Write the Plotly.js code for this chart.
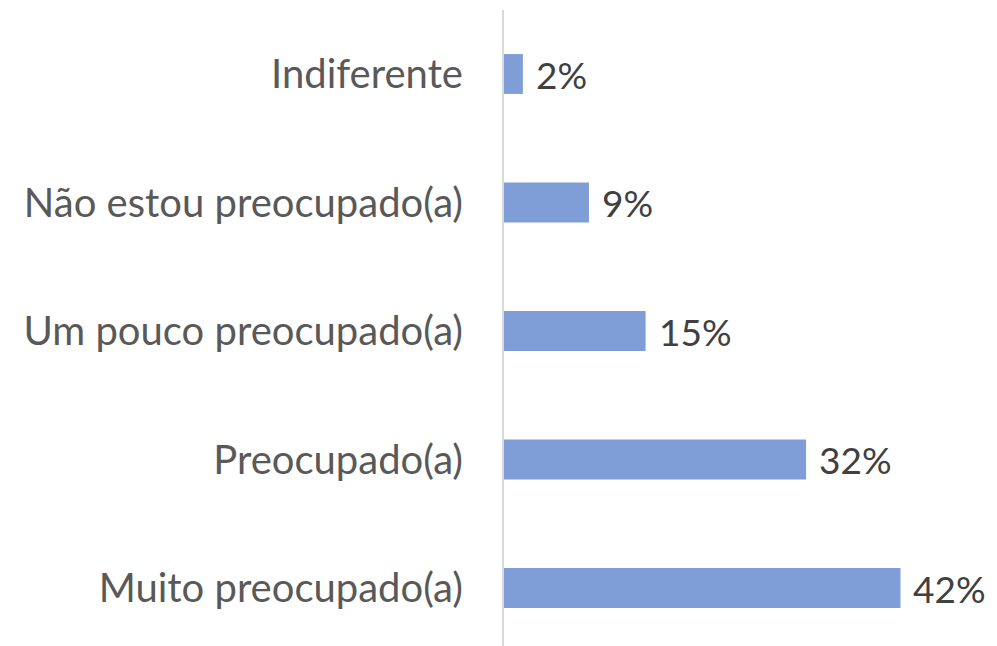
<!DOCTYPE html>
<html>
<head>
<meta charset="utf-8">
<script src="https://cdn.plot.ly/plotly-3.0.1.min.js"></script>
<style>
  html, body { margin: 0; padding: 0; background: #fff; }
  #chart { width: 997px; height: 646px; }
</style>
</head>
<body>
<div id="chart"></div>
<script>
// answers, bottom to top
var categories = ['Muito preocupado(a)', 'Preocupado(a)', 'Um pouco preocupado(a)', 'Não estou preocupado(a)', 'Indiferente'];
var shares = [42, 32, 15, 9, 2];

var barColor = '#7F9ED7';

var data = [{
  type: 'bar',
  orientation: 'h',
  x: shares,
  y: categories,
  width: 0.31,
  marker: { color: barColor },
  hoverinfo: 'none'
}];

var notes = categories.map(function (c, i) {
  return {
    x: shares[i],
    y: c,
    xref: 'x',
    yref: 'y',
    text: shares[i] + '%',
    showarrow: false,
    xanchor: 'left',
    yanchor: 'middle',
    xshift: 11,
    font: { family: 'Lato, sans-serif', size: 37, color: '#404040' }
  };
});

var layout = {
  width: 997,
  height: 646,
  margin: { l: 504, r: 21, t: 10, b: 0 },
  paper_bgcolor: '#ffffff',
  plot_bgcolor: '#ffffff',
  showlegend: false,
  font: { family: 'Lato, sans-serif', size: 40, color: '#595959' },
  xaxis: {
    range: [0, 50],
    showgrid: false,
    zeroline: false,
    showticklabels: false,
    showline: false
  },
  yaxis: {
    type: 'category',
    range: [-0.451, 4.498],
    showgrid: false,
    zeroline: false,
    showline: true,
    linecolor: '#D9D9D9',
    linewidth: 2,
    ticks: '',
    ticklabelstandoff: 31,
    tickfont: { family: 'Lato, sans-serif', size: 40, color: '#595959' }
  },
  annotations: notes
};

Plotly.newPlot('chart', data, layout, { displayModeBar: false, staticPlot: true });
</script>
</body>
</html>
